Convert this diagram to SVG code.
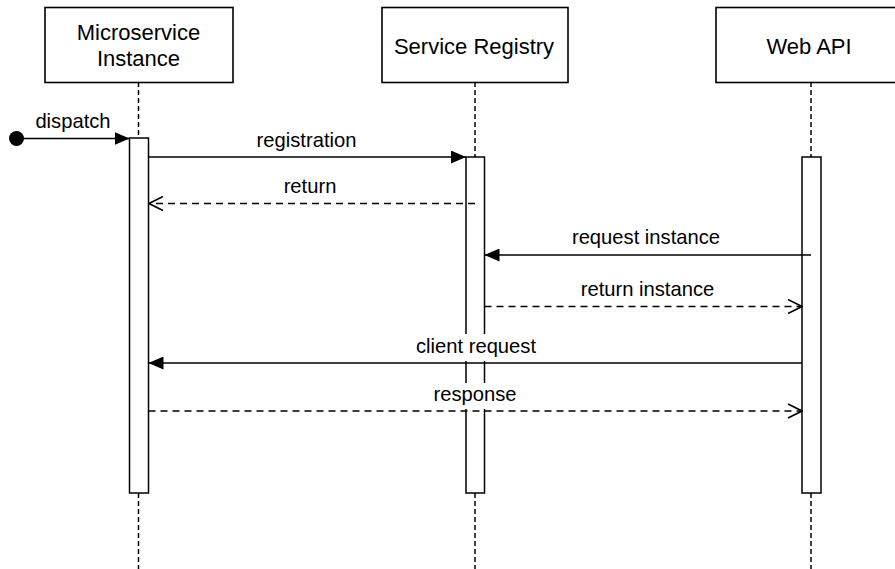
<svg xmlns="http://www.w3.org/2000/svg" width="895" height="569" viewBox="0 0 895 569">
  <style>
    .box { fill: #ffffff; stroke: #000000; stroke-width: 1.6; }
    .bar { fill: #ffffff; stroke: #000000; stroke-width: 1.5; }
    .life { stroke: #000000; stroke-width: 1.5; stroke-dasharray: 5 3; fill: none; }
    .msg { stroke: #000000; stroke-width: 1.5; fill: none; }
    .ret { stroke: #000000; stroke-width: 1.5; fill: none; stroke-dasharray: 7 5; }
    .title { font-family: "Liberation Sans", Arial, sans-serif; font-size: 22px; fill: #000000; text-anchor: middle; }
    .label { font-family: "Liberation Sans", Arial, sans-serif; font-size: 20.2px; fill: #000000; text-anchor: middle; }
    .label-bg { fill: #ffffff; stroke: none; }
  </style>
  <defs>
    <marker id="filled" viewBox="0 0 15 13" refX="15" refY="6.5" markerWidth="15" markerHeight="13" markerUnits="userSpaceOnUse" orient="auto">
      <path d="M0,0 L15,6.5 L0,13 Z" fill="#000000"/>
    </marker>
    <marker id="open" viewBox="0 0 16 16" refX="15" refY="8" markerWidth="16" markerHeight="16" markerUnits="userSpaceOnUse" orient="auto">
      <path d="M1,1 L15,8 L1,15" fill="none" stroke="#000000" stroke-width="1.6"/>
    </marker>
  </defs>
  <rect width="895" height="569" fill="#ffffff"/>

  <!-- lifelines -->
  <g id="lifelines">
    <line class="life" x1="138.5" y1="82" x2="138.5" y2="138"/>
    <line class="life" x1="138.5" y1="493" x2="138.5" y2="569"/>
    <line class="life" x1="475" y1="82" x2="475" y2="157"/>
    <line class="life" x1="475" y1="493" x2="475" y2="569"/>
    <line class="life" x1="811" y1="82" x2="811" y2="157"/>
    <line class="life" x1="811" y1="493" x2="811" y2="569"/>
  </g>

  <!-- participants -->
  <g id="microservice-instance">
    <rect class="box" x="45" y="7.5" width="188" height="75"/>
    <text class="title" x="138.5" y="40">Microservice</text>
    <text class="title" x="138.5" y="66">Instance</text>
    <rect class="bar" x="129.5" y="138" width="19" height="355"/>
  </g>
  <g id="service-registry">
    <rect class="box" x="382" y="7.5" width="186" height="75"/>
    <text class="title" x="474" y="54">Service Registry</text>
    <rect class="bar" x="466" y="157" width="18.5" height="336"/>
  </g>
  <g id="web-api">
    <rect class="box" x="716" y="7.5" width="190" height="75"/>
    <text class="title" x="809" y="54">Web API</text>
    <rect class="bar" x="802" y="157" width="19" height="336"/>
  </g>

  <!-- messages -->
  <g id="connectors">
    <circle cx="16.5" cy="138.5" r="7.5" fill="#000000"/>
    <line class="msg" x1="16.5" y1="138.5" x2="129.5" y2="138.5" marker-end="url(#filled)"/>
    <line class="msg" x1="148.5" y1="157" x2="466" y2="157" marker-end="url(#filled)"/>
    <line class="ret" x1="475" y1="203.5" x2="149" y2="203.5" marker-end="url(#open)"/>
    <line class="msg" x1="811" y1="255" x2="484.5" y2="255" marker-end="url(#filled)"/>
    <line class="ret" x1="484.5" y1="306.5" x2="802" y2="306.5" marker-end="url(#open)"/>
    <line class="msg" x1="802" y1="363" x2="148.5" y2="363" marker-end="url(#filled)"/>
    <line class="ret" x1="148.5" y1="411" x2="802" y2="411" marker-end="url(#open)"/>
  </g>

  <!-- message labels (white backing where a label crosses an activation bar) -->
  <g id="labels">
    <text class="label" x="73" y="128">dispatch</text>
    <text class="label" x="306.5" y="147">registration</text>
    <text class="label" x="310" y="193">return</text>
    <text class="label" x="646" y="244">request instance</text>
    <text class="label" x="647.5" y="296">return instance</text>
    <rect class="label-bg" x="413" y="334" width="126" height="27"/>
    <text class="label" x="476" y="353">client request</text>
    <rect class="label-bg" x="431" y="383" width="89" height="26"/>
    <text class="label" x="475" y="401">response</text>
  </g>
</svg>
